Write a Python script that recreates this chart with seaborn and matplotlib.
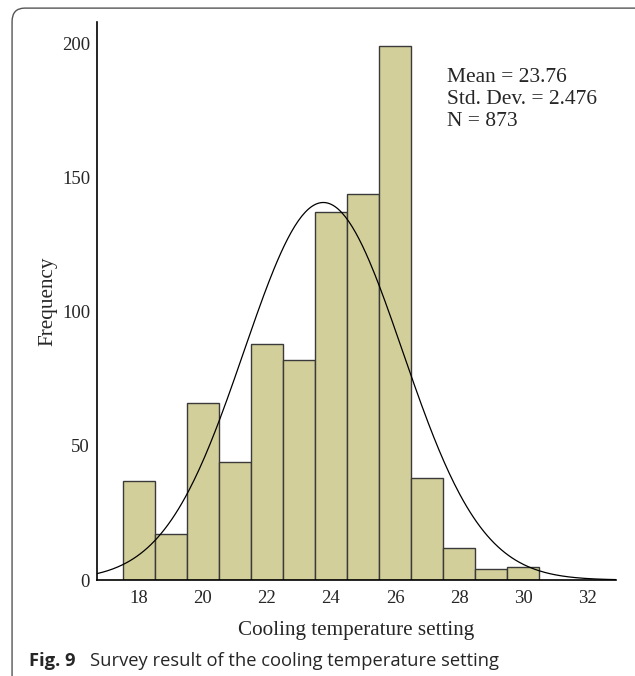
import numpy as np
import pandas as pd
import matplotlib
matplotlib.use('Agg')
import matplotlib.pyplot as plt
from matplotlib.patches import FancyBboxPatch
import seaborn as sns

# histogram data
temps = [18, 19, 20, 21, 22, 23, 24, 25, 26, 27, 28, 29, 30]
counts = [37, 17, 66, 44, 88, 82, 137, 144, 199, 38, 12, 4, 5]
mean_val = 23.76
std_val = 2.476
n_val = 873

df = pd.DataFrame({'temp': temps, 'count': counts})

sns.set_style('white')
plt.rcParams['font.family'] = ['Liberation Serif', 'DejaVu Serif']

fig = plt.figure(figsize=(6.35, 6.76), dpi=100)
ax = fig.add_axes([0.1528, 0.142, 0.817, 0.825])

sns.histplot(data=df, x='temp', weights='count', discrete=True, ax=ax,
             color='#D3CF9B', edgecolor='#3a3a3a', linewidth=1.0, alpha=1)

# fitted normal curve
xs = np.linspace(16.69, 32.9, 300)
ys = n_val * np.exp(-0.5 * ((xs - mean_val) / std_val) ** 2) / (std_val * np.sqrt(2 * np.pi))
sns.lineplot(x=xs, y=ys, ax=ax, color='black', linewidth=0.9)

ax.set_xlim(16.69, 32.9)
ax.set_ylim(0, 207.8)
ax.set_xticks([18, 20, 22, 24, 26, 28, 30, 32])
ax.set_yticks([0, 50, 100, 150, 200])
ax.tick_params(axis='both', direction='out', length=4, width=1, labelsize=13.5, color='black')
ax.tick_params(axis='y', pad=1)
ax.tick_params(axis='x', pad=3)
for s in ['top', 'right']:
    ax.spines[s].set_visible(False)
for s in ['left', 'bottom']:
    ax.spines[s].set_color('black')
    ax.spines[s].set_linewidth(1.2)
ax.set_xlabel('Cooling temperature setting', fontsize=15.2, labelpad=10)
ax.set_ylabel('Frequency', fontsize=15.2, labelpad=3)

ax.text(0.674, 0.918, 'Mean = 23.76\nStd. Dev. = 2.476\nN = 873', transform=ax.transAxes,
        fontsize=15.5, va='top', ha='left', linespacing=1.2)

# rounded frame and caption
frame = FancyBboxPatch((0.019, -0.02), 1.05, 1.008, boxstyle='round,pad=0,rounding_size=0.02',
                       transform=fig.transFigure, fill=False, edgecolor='#555555', linewidth=1.0)
fig.patches.append(frame)
fig.text(0.046, 0.022, 'Fig. 9', fontsize=13.2, fontweight='bold', va='center',
         family=['Open Sans', 'DejaVu Sans'])
fig.text(0.142, 0.022, 'Survey result of the cooling temperature setting', fontsize=13.2,
         va='center', family=['Open Sans', 'DejaVu Sans'])

fig.savefig('out.png', dpi=100)
